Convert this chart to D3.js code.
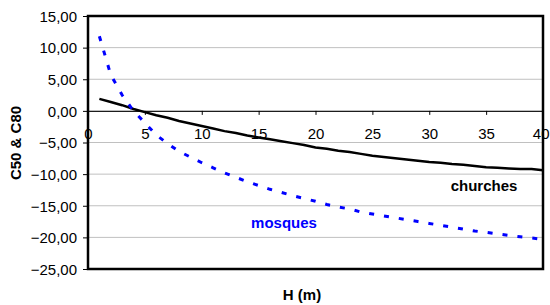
<!DOCTYPE html>
<html>
<head>
<meta charset="utf-8">
<script src="https://cdn.jsdelivr.net/npm/d3@7"></script>
<style>
    body { margin: 0; background: #fff; }
    text { font-family: "Liberation Sans", Arial, sans-serif; }
</style>
</head>
<body>
<svg id="chart" width="550" height="305"></svg>
<script>
"use strict";

// H (m)
const heights = d3.range(1, 41);
const churches = [1.9, 1.4, 0.9, 0.3, -0.2, -0.7, -1.1, -1.6, -2.0, -2.4,
    -2.8, -3.2, -3.5, -3.9, -4.2, -4.5, -4.8, -5.1, -5.4, -5.8,
    -6.0, -6.3, -6.5, -6.8, -7.1, -7.3, -7.5, -7.7, -7.9, -8.1,
    -8.2, -8.4, -8.5, -8.7, -8.9, -9.0, -9.1, -9.2, -9.2, -9.4];
const mosques = [11.8, 5.7, 2.5, 0.0, -1.9, -3.8, -5.2, -6.4, -7.3, -8.2,
    -9.0, -9.8, -10.5, -11.2, -11.8, -12.4, -12.9, -13.4, -13.85, -14.3,
    -14.8, -15.2, -15.5, -16.0, -16.3, -16.6, -16.9, -17.2, -17.5, -17.8,
    -18.1, -18.4, -18.7, -19.0, -19.2, -19.45, -19.7, -19.9, -20.1, -20.3];
const xTicks = [0, 5, 10, 15, 20, 25, 30, 35, 40];
const yTicks = [15, 10, 5, 0, -5, -10, -15, -20, -25];

const svg = d3.select("#chart");
const plot = { left: 88, right: 543, top: 16, bottom: 269 };

const x = d3.scaleLinear().domain([0, 40]).range([plot.left, plot.right]);
const y = d3.scaleLinear().domain([-25, 15]).range([plot.bottom, plot.top]);
const fmt = d => d3.format(".2f")(d).replace(".", ",");

// gridlines
svg.append("g")
    .selectAll("line")
    .data(yTicks.filter(d => d !== 15 && d !== -25))
    .enter()
    .append("line")
    .attr("x1", plot.left).attr("x2", plot.right)
    .attr("y1", d => y(d)).attr("y2", d => y(d))
    .style("stroke", "#c0c0c0")
    .style("stroke-width", 1);

// y axis
const yAxis = svg.append("g")
    .attr("transform", "translate(" + plot.left + ",0)")
    .call(d3.axisLeft(y).tickValues(yTicks).tickFormat(fmt).tickSize(5).tickSizeOuter(0));
yAxis.select(".domain").remove();
yAxis.selectAll("text").style("font-size", "15px").style("fill", "#000")
    .attr("x", -11).attr("dy", "0.35em");
yAxis.selectAll(".tick line").style("stroke", "#000");

// x axis crossing at 0
const xAxis = svg.append("g")
    .attr("transform", "translate(0," + y(0) + ")")
    .call(d3.axisBottom(x).tickValues(xTicks).tickSize(4).tickSizeOuter(0));
xAxis.select(".domain").style("stroke", "#000");
xAxis.selectAll("text").style("font-size", "15px").style("fill", "#000").attr("y", 17);
// last label sits under the right border; keep it inside the window
xAxis.selectAll("text").filter(d => d === 40).attr("text-anchor", "end").attr("x", 6);
xAxis.selectAll(".tick line").style("stroke", "#000");

// series
const line = vals => d3.line()
    .x((d, i) => x(heights[i]))
    .y(d => y(d))(vals);

svg.append("path")
    .attr("d", line(churches))
    .style("fill", "none")
    .style("stroke", "#000")
    .style("stroke-width", 2.5);

svg.append("path")
    .attr("d", line(mosques))
    .style("fill", "none")
    .style("stroke", "#0000ff")
    .style("stroke-width", 3)
    .style("stroke-dasharray", "5,10");

// plot border
svg.append("rect")
    .attr("x", plot.left).attr("y", plot.top)
    .attr("width", plot.right - plot.left).attr("height", plot.bottom - plot.top)
    .style("fill", "none")
    .style("stroke", "#000")
    .style("stroke-width", 2.5);

// labels
svg.append("text")
    .attr("x", 484).attr("y", 191)
    .attr("text-anchor", "middle")
    .style("font-size", "15px").style("font-weight", "bold").style("fill", "#000")
    .text("churches");
svg.append("text")
    .attr("x", 284).attr("y", 228)
    .attr("text-anchor", "middle")
    .style("font-size", "15px").style("font-weight", "bold").style("fill", "#0000ff")
    .text("mosques");

svg.append("text")
    .attr("x", 302).attr("y", 300)
    .attr("text-anchor", "middle")
    .style("font-size", "15px").style("font-weight", "bold")
    .text("H (m)");
svg.append("text")
    .attr("transform", "translate(21,143) rotate(-90)")
    .attr("text-anchor", "middle")
    .style("font-size", "15px").style("font-weight", "bold")
    .text("C50 & C80");
</script>
</body>
</html>
